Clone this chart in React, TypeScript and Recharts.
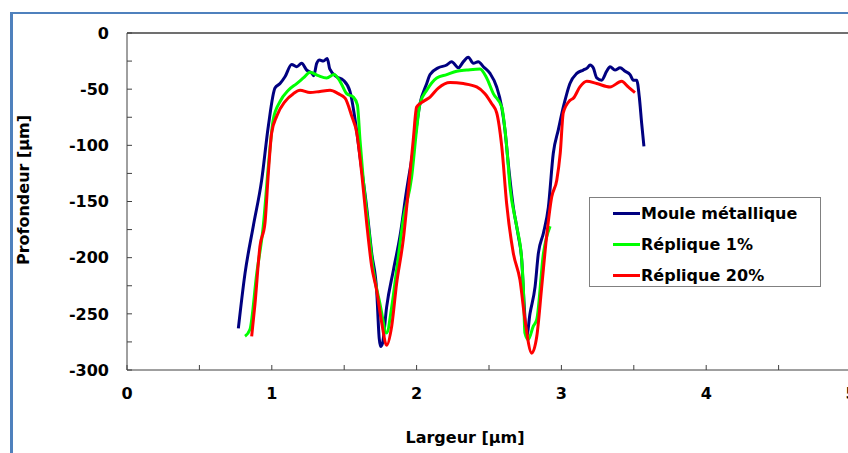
import React from 'react';
import { LineChart, Line, XAxis, YAxis, Legend, ReferenceLine } from 'recharts';

// Moule métallique (navy)
const mouleX = [0.769, 0.815, 0.872, 0.93, 0.976, 1.022, 1.057, 1.091, 1.137, 1.172, 1.206, 1.241, 1.278, 1.29, 1.31, 1.33, 1.356, 1.383, 1.40, 1.448, 1.494, 1.54, 1.575, 1.609, 1.655, 1.69, 1.724, 1.742, 1.752, 1.765, 1.793, 1.84, 1.885, 1.931, 1.977, 2.023, 2.07, 2.093, 2.15, 2.208, 2.242, 2.288, 2.323, 2.357, 2.392, 2.426, 2.461, 2.507, 2.553, 2.588, 2.61, 2.633, 2.668, 2.703, 2.726, 2.742, 2.76, 2.783, 2.818, 2.841, 2.876, 2.91, 2.944, 2.979, 3.013, 3.035, 3.059, 3.106, 3.151, 3.179, 3.198, 3.22, 3.244, 3.278, 3.313, 3.336, 3.37, 3.405, 3.44, 3.474, 3.497, 3.52, 3.538, 3.554, 3.57];
const mouleY = [-263, -214, -172, -131, -83, -49, -45, -39, -28, -30, -27, -33, -36, -38, -27, -24, -25, -22.6, -32, -39, -42, -52, -77, -110, -155, -196, -229, -272, -279, -276, -244, -211, -181, -140, -104, -63, -45, -37, -31, -28.5, -25.5, -31, -25.5, -21.6, -27, -25.5, -30, -36, -48, -66, -86, -116, -155, -181, -202, -240, -270, -250, -226, -196, -178, -155, -107, -86, -66, -55, -45, -36, -33, -31, -28.5, -31, -40, -42, -34, -30, -33, -31, -34, -37, -42, -42, -57, -80, -101];

// Réplique 1% (green)
const rep1X = [0.815, 0.849, 0.896, 0.941, 0.976, 1.01, 1.057, 1.114, 1.172, 1.218, 1.264, 1.321, 1.379, 1.43, 1.471, 1.517, 1.563, 1.591, 1.609, 1.632, 1.667, 1.701, 1.747, 1.793, 1.828, 1.862, 1.908, 1.966, 2.0, 2.023, 2.07, 2.139, 2.208, 2.277, 2.346, 2.438, 2.484, 2.53, 2.588, 2.622, 2.645, 2.691, 2.726, 2.737, 2.748, 2.771, 2.806, 2.83, 2.876, 2.922];
const rep1Y = [-270, -264, -214, -172, -119, -77, -61, -51, -45, -40, -35, -38, -40, -37, -43, -54, -57, -64, -95, -131, -172, -211, -241, -267, -244, -211, -166, -128, -86, -63, -51, -40, -37, -34, -33, -32, -40, -54, -66, -101, -137, -172, -202, -226, -267, -273, -261, -255, -196, -172];

// Réplique 20% (red)
const rep20X = [0.861, 0.884, 0.918, 0.953, 0.976, 0.999, 1.034, 1.091, 1.149, 1.195, 1.264, 1.333, 1.402, 1.459, 1.506, 1.552, 1.587, 1.621, 1.655, 1.69, 1.724, 1.759, 1.793, 1.828, 1.862, 1.908, 1.943, 1.977, 2.0, 2.046, 2.093, 2.15, 2.231, 2.323, 2.415, 2.472, 2.519, 2.553, 2.588, 2.622, 2.668, 2.714, 2.748, 2.795, 2.83, 2.864, 2.898, 2.933, 2.968, 2.992, 3.013, 3.059, 3.083, 3.128, 3.175, 3.244, 3.336, 3.416, 3.462, 3.508];
const rep20Y = [-270, -241, -190, -169, -125, -89, -74, -61, -54, -51, -53, -52, -51, -54, -58, -74, -89, -125, -169, -208, -229, -258, -278, -261, -223, -184, -140, -95, -66, -61, -57, -49, -44, -45, -48, -54, -63, -71, -101, -152, -196, -220, -255, -285, -270, -226, -181, -146, -131, -107, -71, -60, -58, -48, -43, -45, -48, -43, -48, -53];

const seriesNames = ['Moule métallique', 'Réplique 1%', 'Réplique 20%'];
const seriesColors = ['#000080', '#00FF00', '#FF0000'];

const xTicks = [0, 0.5, 1, 1.5, 2, 2.5, 3, 3.5, 4, 4.5, 5];
const yTicks = [0, -25, -50, -75, -100, -125, -150, -175, -200, -225, -250, -275, -300];

const toPoints = (xs: number[], ys: number[]) => xs.map((x, i) => ({ x, y: ys[i] }));
const seriesData = [toPoints(mouleX, mouleY), toPoints(rep1X, rep1Y), toPoints(rep20X, rep20Y)];

const font = 'DejaVu Sans';
const tickStyle = { fill: '#000', fontSize: 16, fontWeight: 'bold', fontFamily: font };

const LegendBox = () => (
  <div style={{ border: '1px solid #808080', width: 232, height: 90, boxSizing: 'border-box', background: '#fff', paddingTop: 0 }}>
    {seriesNames.map((name, i) => (
      <div key={name} style={{ display: 'flex', alignItems: 'center', height: 31, paddingLeft: 23 }}>
        <div style={{ width: 27, height: 3, background: seriesColors[i] }} />
        <span style={{ fontFamily: font, fontWeight: 'bold', fontSize: 16, color: '#000', marginLeft: 1 }}>{name}</span>
      </div>
    ))}
  </div>
);

export default function App() {
  return (
    <div style={{ position: 'absolute', left: 0, top: 0, width: 848, height: 453, overflow: 'hidden', background: '#fff' }}>
      <div style={{ position: 'absolute', left: 10, top: 12, width: 900, height: 500, borderLeft: '3px solid #4f81bd', borderTop: '2px solid #4f81bd' }} />
      <div style={{ position: 'absolute', left: 0, top: 0 }}>
        <LineChart width={870} height={453} margin={{ top: 33, right: 19, left: 67, bottom: 53 }}>
          <XAxis
            type="number"
            dataKey="x"
            domain={[0, 5]}
            ticks={xTicks}
            tickFormatter={(v: number) => (Number.isInteger(v) ? String(v) : '')}
            tick={tickStyle}
            tickSize={-5}
            tickMargin={23}
            height={30}
            stroke="#404040"
            allowDataOverflow
            label={{
              content: () => (
                <text x={465} y={443} textAnchor="middle" fontFamily={font} fontWeight="bold" fontSize={16} fill="#000">
                  Largeur [µm]
                </text>
              ),
            }}
          />
          <YAxis
            type="number"
            dataKey="y"
            domain={[-300, 0]}
            ticks={yTicks}
            tickFormatter={(v: number) => (v % 50 === 0 ? String(v) : '')}
            tick={tickStyle}
            tickSize={-5}
            tickMargin={23}
            width={60}
            stroke="#404040"
            allowDataOverflow
            label={{
              content: () => (
                <text x={29} y={190} transform="rotate(-90, 29, 190)" textAnchor="middle" fontFamily={font} fontWeight="bold" fontSize={16} fill="#000">
                  Profondeur [µm]
                </text>
              ),
            }}
          />
          <ReferenceLine y={0} stroke="#404040" strokeWidth={1.5} />
          <Legend
            layout="vertical"
            align="center"
            verticalAlign="middle"
            content={() => <LegendBox />}
            wrapperStyle={{ position: 'absolute', left: 589, top: 197, width: 234, height: 92 }}
          />
          {seriesData.map((d, i) => (
            <Line
              key={seriesNames[i]}
              data={d}
              dataKey="y"
              name={seriesNames[i]}
              type="monotone"
              stroke={seriesColors[i]}
              strokeWidth={3}
              dot={false}
              isAnimationActive={false}
            />
          ))}
        </LineChart>
      </div>
    </div>
  );
}
